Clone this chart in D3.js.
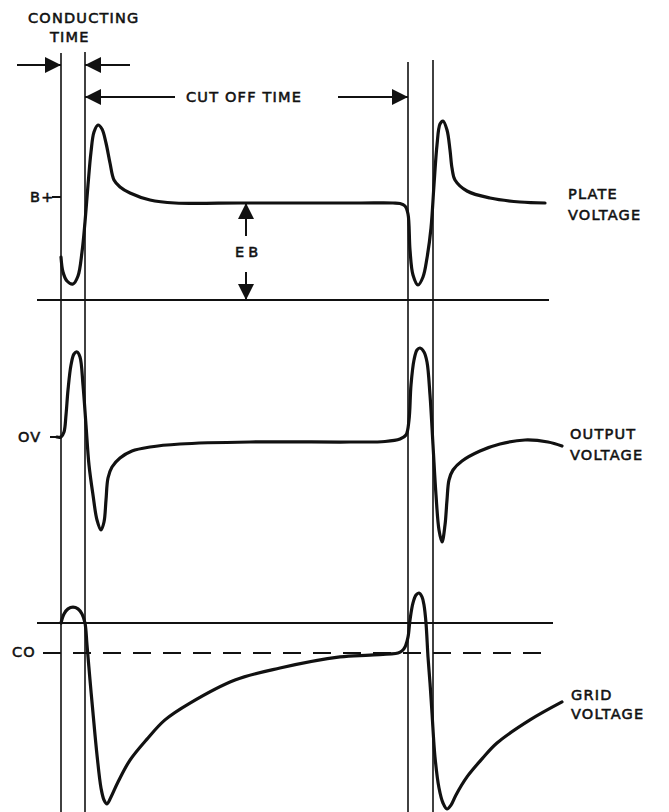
<!DOCTYPE html>
<html>
<head>
<meta charset="utf-8">
<script src="https://cdn.jsdelivr.net/npm/d3@7"></script>
<style>
body { margin: 0; background: #fff; }
svg text { font-family: 'DejaVu Sans', sans-serif; font-size: 14.5px; fill: #111; stroke: #111; stroke-width: 0.55px; letter-spacing: 1.2px; }
</style>
</head>
<body>
<svg id="chart" width="669" height="812"></svg>
<script>
// time marks (us) where the tube starts / stops conducting
var switchTimes = [0, 24, 347, 372]

// plate voltage, volts above the baseline
var plateTime = [0, 2, 6, 12, 17, 21, 24, 27, 30, 33, 37, 41, 45, 49, 53, 59, 69, 89, 114, 180, 239, 300,
    332, 339, 344, 347, 349, 352, 357, 362, 366, 370, 373, 376, 379, 382, 386, 389, 391, 394, 406, 429, 459, 484]
var plateVolts = [43, 28, 19, 16, 24, 48, 78, 115, 148, 168, 175, 171, 157, 137, 120, 113, 107, 100, 97, 97, 97, 97,
    97, 96.5, 94, 86, 50, 25, 15, 23, 42, 72, 115, 155, 176, 179, 170, 150, 132, 120, 109, 102, 98, 97]
var plateSupply = 97

// output voltage around 0V
var outTime = [-4, 0, 3, 5, 7, 10, 13, 16, 19, 22, 25, 28, 32, 36, 40, 43, 45, 47, 51, 59,
    71, 89, 119, 189, 289, 324, 339, 345, 348, 350, 353, 356, 359, 363, 366, 369, 372, 375, 378, 381,
    384, 386, 388, 392, 401, 419, 439, 464, 487, 501]
var outVolts = [2, 2, 7, 24, 49, 74, 85, 87, 82, 54, 14, -26, -56, -81, -91, -83, -61, -39, -28, -19,
    -12, -8, -5, -3, -3, -2.5, 0, 4, 19, 54, 79, 89, 91, 87, 77, 44, -6, -56, -91, -103,
    -86, -61, -41, -31, -22, -12, -5, -1, -3, -7]

// grid voltage, cut off at -10
var gridTime = [0, 3, 7, 12, 17, 21, 24, 26, 29, 32, 36, 40, 43, 46, 50, 57, 69, 86, 104, 129,
    174, 219, 279, 309, 337, 341, 344, 347, 349, 352, 355, 358, 361, 363, 365, 367, 369, 371, 374, 378,
    382, 386, 390, 395, 406, 421, 436, 469, 501]
var gridVolts = [0, 3, 4.7, 5.3, 4.7, 3, 0, -7.3, -19, -30, -44, -55, -59, -60.3, -58, -53, -45.7, -38.7, -32.3, -26.7,
    -19, -15, -11.3, -10.7, -10, -9.3, -8, -4.7, 1, 6.7, 9.3, 10, 8.7, 6, 0, -11.3, -20, -30, -44.7, -55,
    -60, -62, -60.7, -57.3, -51.3, -45.3, -40, -32.3, -26.3]
var gridCutoff = -10

var labels = {
    conducting: ['CONDUCTING', 'TIME'],
    cutoff: 'CUT OFF TIME',
    plate: ['PLATE', 'VOLTAGE'],
    output: ['OUTPUT', 'VOLTAGE'],
    grid: ['GRID', 'VOLTAGE']
}

var svg = d3.select('#chart')
svg.append('rect').attr('width', 669).attr('height', 812).attr('fill', '#fff')

// scales
var x = d3.scaleLinear().domain([0, 347]).range([61, 408])
var yPlate = d3.scaleLinear().domain([0, 97]).range([300, 203])
var yOut = d3.scaleLinear().domain([-100, 100]).range([539, 339])
var yGrid = d3.scaleLinear().domain([0, -60]).range([623, 803])

var ink = '#111'

// switching verticals
var vTops = [53, 52, 62, 60]
svg.selectAll('.vline')
    .data(switchTimes)
    .enter().append('line')
    .attr('x1', function(d) { return x(d) })
    .attr('x2', function(d) { return x(d) })
    .attr('y1', function(d, i) { return vTops[i] })
    .attr('y2', 812)
    .attr('stroke', ink)
    .attr('stroke-width', 1.6)

// zero lines
function hline(y, x1, x2, dash) {
    svg.append('line')
        .attr('x1', x1).attr('x2', x2)
        .attr('y1', y).attr('y2', y)
        .attr('stroke', ink)
        .attr('stroke-width', 2)
        .attr('stroke-dasharray', dash || null)
}
hline(yPlate(0), 37, 549)
hline(yGrid(0), 37, 553)
hline(yGrid(gridCutoff), 43, 549, '18,12')

// small ticks for B+ and OV
hline(yPlate(plateSupply) - 6, 52, x(0))
hline(yOut(2), 50, x(0))

// waveforms
function wave(times, volts, yScale) {
    var line = d3.line()
        .x(function(d) { return x(d[0]) })
        .y(function(d) { return yScale(d[1]) })
        .curve(d3.curveCatmullRom.alpha(0.5))
    svg.append('path')
        .datum(d3.zip(times, volts))
        .attr('d', line)
        .attr('fill', 'none')
        .attr('stroke', ink)
        .attr('stroke-width', 3.2)
        .attr('stroke-linejoin', 'round')
        .attr('stroke-linecap', 'round')
}
wave(plateTime, plateVolts, yPlate)
wave(outTime, outVolts, yOut)
wave(gridTime, gridVolts, yGrid)

// arrows
function arrow(x1, y1, x2, y2, head) {
    svg.append('line')
        .attr('x1', x1).attr('y1', y1).attr('x2', x2).attr('y2', y2)
        .attr('stroke', ink).attr('stroke-width', 2)
    if (!head) return
    var a = Math.atan2(y2 - y1, x2 - x1)
    var len = 16, half = 8
    var bx = x2 - len * Math.cos(a), by = y2 - len * Math.sin(a)
    var px = -Math.sin(a) * half, py = Math.cos(a) * half
    svg.append('path')
        .attr('d', 'M' + x2 + ',' + y2 + 'L' + (bx + px) + ',' + (by + py) + 'L' + (bx - px) + ',' + (by - py) + 'Z')
        .attr('fill', ink)
}
// conducting time
arrow(17, 65, x(0), 65, true)
arrow(130, 65, x(24), 65, true)
// cut off time
arrow(175, 97, x(24), 97, true)
arrow(338, 97, x(347), 97, true)
// EB
var ebX = 246
arrow(ebX, 236, ebX, yPlate(plateSupply), true)
arrow(ebX, 272, ebX, yPlate(0), true)

// text
function label(txt, tx, ty, spacing) {
    var t = svg.append('text').attr('x', tx).attr('y', ty).text(txt)
    if (spacing != null) t.style('letter-spacing', spacing + 'px')
    return t
}
label(labels.conducting[0], 28, 23)
label(labels.conducting[1], 50, 42)
label(labels.cutoff, 186, 102)
label(labels.plate[0], 568, 199)
label(labels.plate[1], 568, 220)
label(labels.output[0], 570, 439)
label(labels.output[1], 570, 460)
label(labels.grid[0], 571, 700)
label(labels.grid[1], 571, 719)
label('B+', 30, 202)
label('OV', 18, 442)
label('CO', 12, 657)
label('EB', 235, 257, 4)
</script>
</body>
</html>
